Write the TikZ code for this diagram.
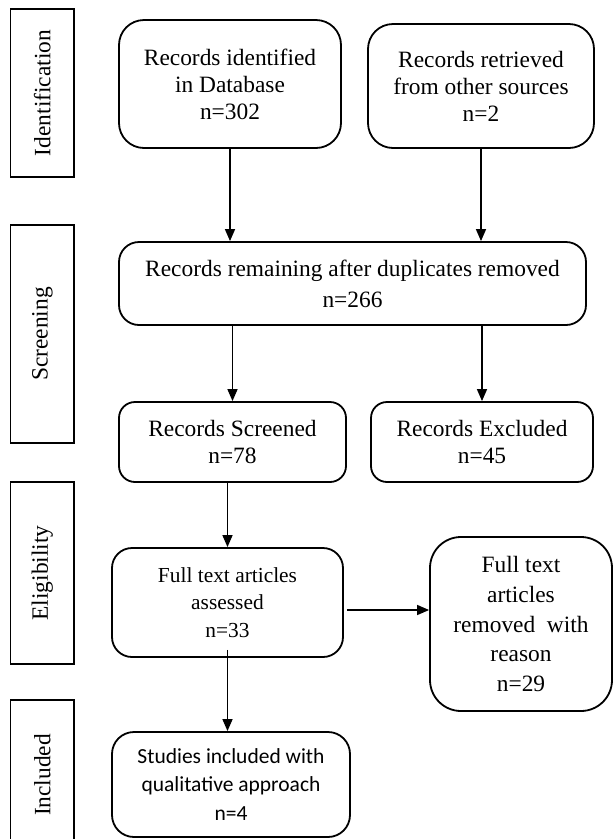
\documentclass[tikz,border=0pt]{standalone}
\usepackage{fontspec}
\setmainfont{Liberation Serif}
\newfontfamily\calib{Carlito}
\usetikzlibrary{arrows.meta}
\begin{document}
\begin{tikzpicture}[x=1pt,y=-1pt,
  box/.style={draw, line width=1.8pt, rounded corners=#1, align=center, inner sep=0pt,
    font=\fontsize{23.4}{27}\selectfont},
  box/.default=20pt,
  side/.style={draw, line width=1.6pt, inner sep=0pt},
  sidelabel/.style={rotate=90, inner sep=0pt, font=\fontsize{23.4}{27}\selectfont},
  arr/.style={line width=1.5pt, -{Triangle[length=12pt,width=10pt]}}
]
\useasboundingbox (0,0) rectangle (613,839);
\clip (0,0) rectangle (613,839);

% side boxes
\node[side, minimum width=63.3pt, minimum height=168pt] (sid) at (42.3,93) {};
\node[sidelabel] (lid) at (sid.center) {Identification};
\node[side, minimum width=63.3pt, minimum height=218pt] (ssc) at (42.3,334) {};
\node[sidelabel] (lsc) at (ssc.center) {Screening};
\node[side, minimum width=63.3pt, minimum height=182pt] (sel) at (42.3,573) {};
\node[sidelabel] (lel) at (sel.center) {Eligibility};
\node[side, minimum width=63.3pt, minimum height=150pt] (sin) at (42.3,775) {};
\node[sidelabel] (lin) at (sin.center) {Included};

% main boxes
\node[box=25pt, minimum width=222pt, minimum height=128pt] (A) at (230,84)
  {Records identified\\in Database\\n=302};
\node[box=25pt, minimum width=226pt, minimum height=124pt] (B) at (481,86)
  {Records retrieved\\from other sources\\n=2};
\node[box=20pt, minimum width=467pt, minimum height=83pt,
  font=\fontsize{23.4}{31}\selectfont] (C) at (352.5,283.5)
  {Records remaining after duplicates removed\\n=266};
\node[box=16pt, minimum width=227pt, minimum height=80pt] (D) at (232.5,442)
  {Records Screened\\n=78};
\node[box=16pt, minimum width=222pt, minimum height=80pt] (E) at (482,442)
  {Records Excluded\\n=45};
\node[box=20pt, minimum width=231pt, minimum height=109pt,
  font=\fontsize{21.4}{27.5}\selectfont] (F) at (227.5,602.5)
  {Full text articles\\assessed\\n=33};
\node[box=31pt, minimum width=182pt, minimum height=174pt,
  font=\fontsize{23.4}{29.8}\selectfont] (G) at (521,624)
  {Full text\\articles\\removed~~with\\reason\\n=29};
\node[box=22pt, minimum width=238pt, minimum height=105pt,
  font=\calib\fontsize{21.5}{28.5}\selectfont] (H) at (231,784.5)
  {Studies included with\\qualitative approach\\n=4};

% connectors
\draw[arr] (A.south) -- (A.south |- C.north);
\draw[arr] (B.south) -- (B.south |- C.north);
\draw[arr] (C.south -| D.north) -- (D.north);
\draw[arr] (C.south -| E.north) -- (E.north);
\draw[arr] (D.south -| F.north) -- (F.north);
\draw[arr] ([xshift=3pt]F.east |- 0,610) -- (G.west |- 0,610);
\draw[arr] ([yshift=8pt]F.south) -- (H.north -| F.south);
\end{tikzpicture}
\end{document}
